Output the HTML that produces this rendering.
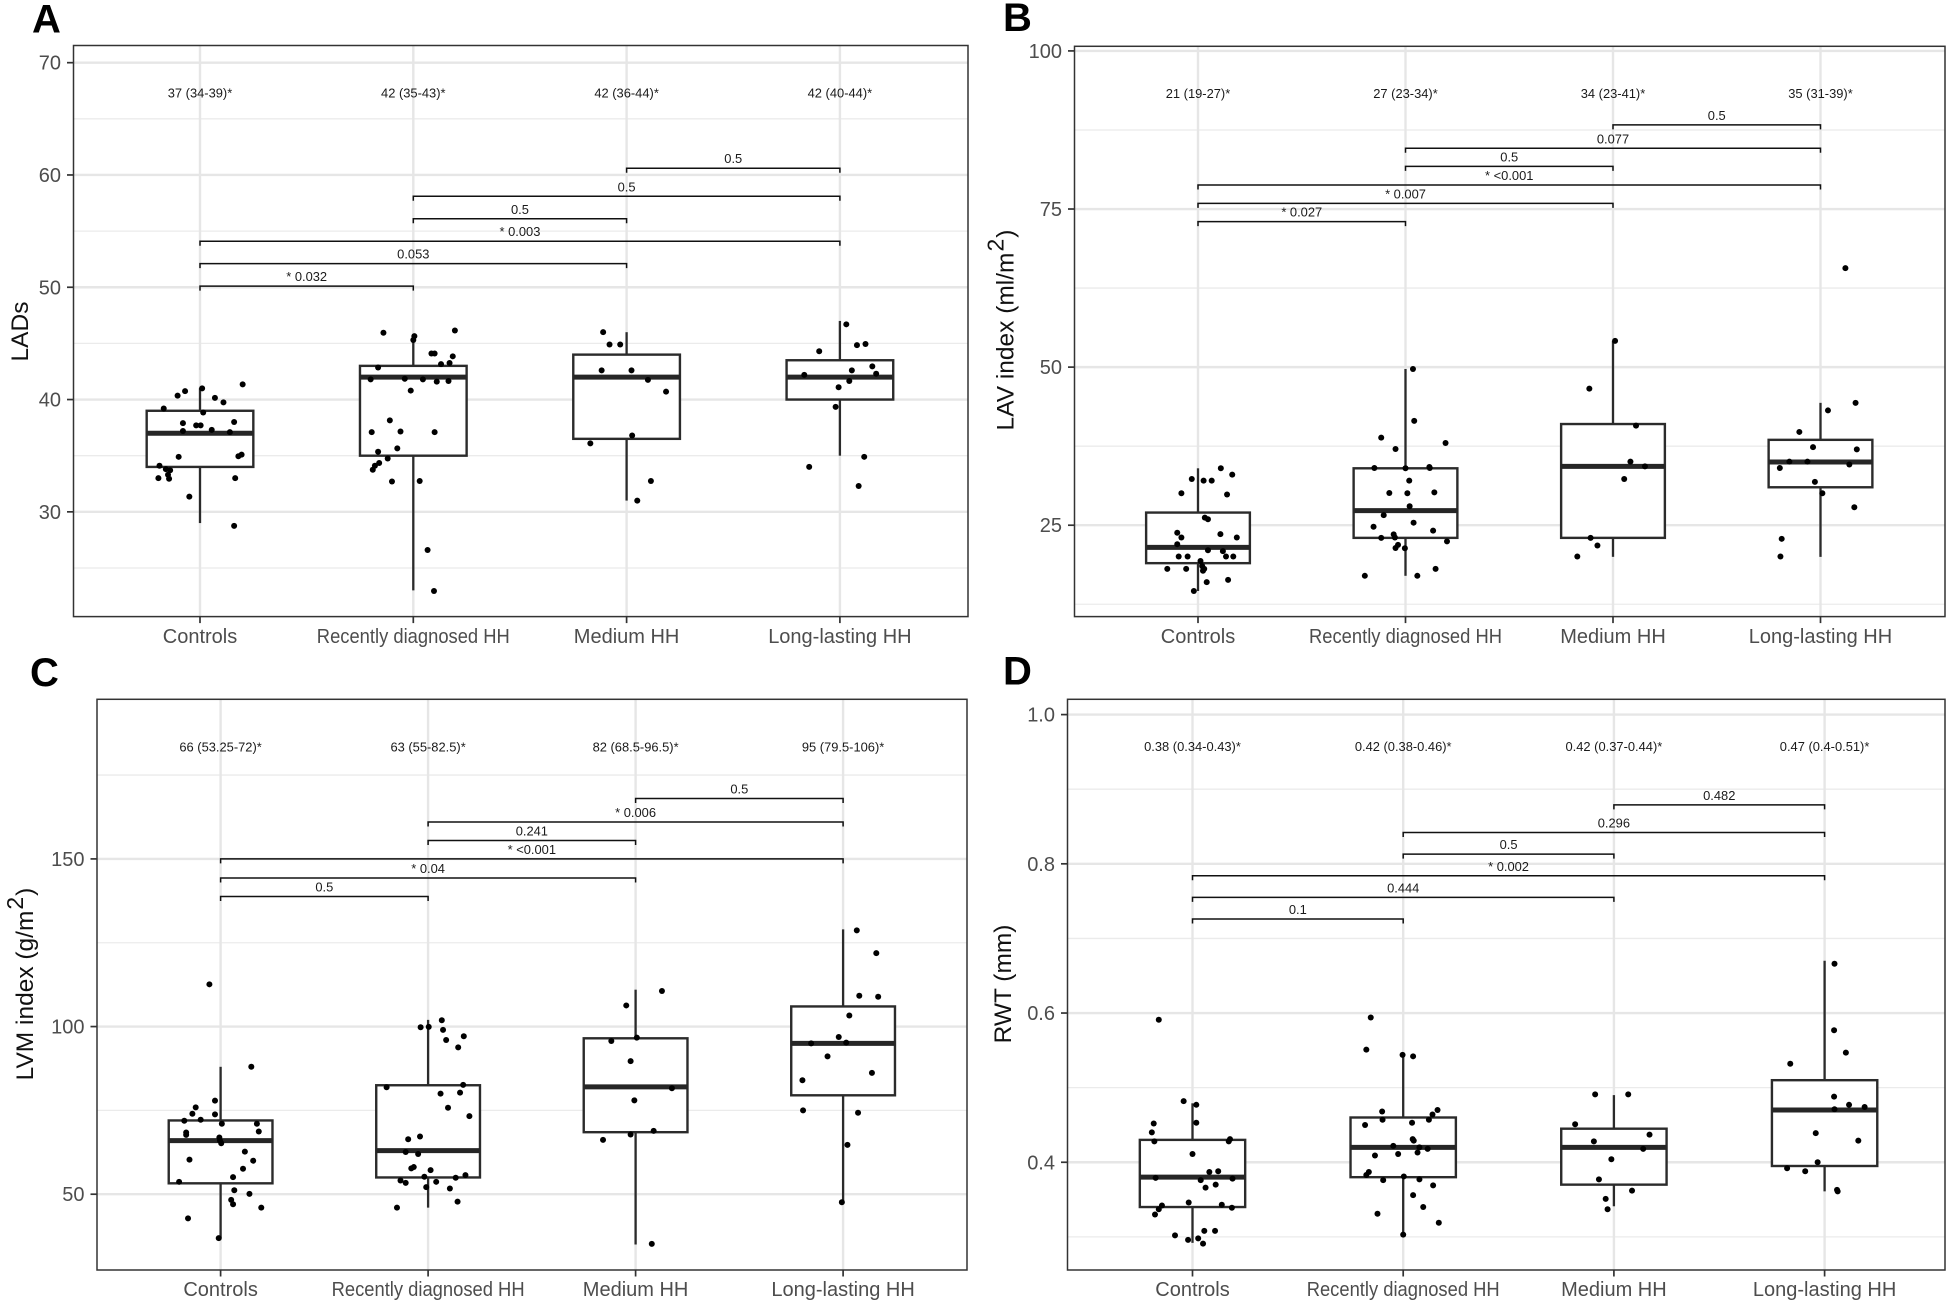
<!DOCTYPE html>
<html lang="en">
<head>
<meta charset="utf-8">
<title>Echocardiographic parameters by group</title>
<style>
html,body{margin:0;padding:0;background:#fff;}
body{width:1955px;height:1305px;overflow:hidden;}
svg{display:block;font-family:"Liberation Sans",Arial,sans-serif;}
</style>
</head>
<body>
<svg id="figure" xmlns="http://www.w3.org/2000/svg" width="1955" height="1305" viewBox="0 0 1955 1305"></svg>
<script>
const categories = ["Controls", "Recently diagnosed HH", "Medium HH", "Long-lasting HH"];
const bracketFrom = [0, 0, 0, 1, 1, 2];
const bracketTo = [1, 2, 3, 2, 3, 3];

/* Panel A — LADs */
const aTicks = [30, 40, 50, 60, 70];
const aTickLabels = ["30", "40", "50", "60", "70"];
const aMinorGrid = [25, 35, 45, 55, 65];
const aQ1 = [34, 35, 36.5, 40];
const aMedian = [37, 42, 42, 42];
const aQ3 = [39, 43, 44, 43.5];
const aWhiskerLow = [29, 23, 31, 35];
const aWhiskerHigh = [41, 45.8, 46, 47];
const aBracketLevels = [50.1, 52.1, 54.1, 56.1, 58.1, 60.6];
const aBracketLabels = ["* 0.032", "0.053", "* 0.003", "0.5", "0.5", "0.5"];
const aSummaryLabels = ["37 (34-39)*", "42 (35-43)*", "42 (36-44)*", "42 (40-44)*"];
const aSummaryLevel = 67.3;
const aValues0 = [39.2,40.35,40.75,41,40.15,39.75,41.35,38.85,37.9,37.7,37.7,38,37.2,37.3,37.1,34.9,34.95,35.1,34.1,33.8,33.7,33.3,33,32.95,33,31.35,28.75];
const aJitter0 = [-.17,-.105,-.07,.01,.07,.11,.2,.015,-.08,-.018,.003,.16,-.08,.055,.14,-.1,.18,.195,-.19,-.16,-.14,-.15,-.195,-.145,.165,-.05,.16];
const aValues1 = [45.95,45.65,45.3,46.15,44.1,44.1,43.85,43.15,43.25,42.85,41.8,41.85,41.8,41.6,41.65,40.8,38.15,37.1,37.15,37.1,35.65,35.35,34.75,34.35,34.1,33.75,32.7,32.75,26.6,22.95];
const aJitter1 = [-.14,.005,0,.195,.085,.1,.185,.13,.17,-.165,-.2,-.04,.045,.11,.165,-.012,-.11,-.195,-.06,.1,-.075,-.165,-.12,-.16,-.18,-.19,-.1,.03,.067,.097];
const aValues2 = [46,44.9,44.9,42.6,42.6,41.75,40.7,36.8,36.1,32.75,31];
const aJitter2 = [-.11,-.08,-.03,-.117,.023,.1,.185,.026,-.17,.114,.05];
const aValues3 = [46.7,44.85,44.95,44.3,42.95,42.6,42.2,42.3,41.65,41.1,39.35,34.9,34,32.3];
const aJitter3 = [.03,.08,.12,-.097,.152,.056,-.167,.17,.044,-.006,-.02,.114,-.144,.088];

/* Panel B — LAV index */
const bTicks = [25, 50, 75, 100];
const bTickLabels = ["25", "50", "75", "100"];
const bMinorGrid = [12.5, 37.5, 62.5, 87.5];
const bQ1 = [19, 23, 23, 31];
const bMedian = [21.5, 27.3, 34.3, 35];
const bQ3 = [27, 34, 41, 38.5];
const bWhiskerLow = [14.6, 17, 20, 20];
const bWhiskerHigh = [34, 49.7, 54.15, 44.35];
const bBracketLevels = [73, 75.9, 78.8, 81.75, 84.6, 88.3];
const bBracketLabels = ["* 0.027", "* 0.007", "* <0.001", "0.5", "0.077", "0.5"];
const bSummaryLabels = ["21 (19-27)*", "27 (23-34)*", "34 (23-41)*", "35 (31-39)*"];
const bSummaryLevel = 93.3;
const bValues0 = [34,33,32.3,32.05,32.05,30.05,29.85,26.2,25.95,23.8,23.05,23.6,23.05,22,21.05,20.9,20.05,20.05,20.05,20.05,19.35,18.55,18.1,18.1,18.1,17.8,16,16.35,14.6];
const bJitter0 = [.11,.165,-.03,.027,.066,-.08,.14,.033,.048,-.1,-.08,.108,.187,-.1,.048,.12,-.093,-.05,.135,.17,.012,.02,-.148,-.057,.03,.024,.042,.145,-.02];
const bValues1 = [49.7,41.5,38.85,37.05,38,34.05,34,34.2,34.05,32.05,30.1,30.05,30.2,28,26.6,25.4,24.75,24.15,23,23.55,23.05,22.45,21.9,21.4,21.35,18.1,17,17];
const bJitter1 = [.036,.042,-.117,-.048,.193,-.15,0,.115,.117,.018,-.078,.009,.139,.02,-.105,.039,-.154,.133,-.117,-.057,-.051,.2,-.036,-.048,-.003,.145,-.196,.057];
const bValues2 = [54.15,46.6,40.75,35.05,34.3,32.3,23,21.8,20.05];
const bJitter2 = [.01,-.114,.111,.084,.154,.054,-.108,-.075,-.172];
const bValues3 = [65.65,44.35,43.15,39.75,37.35,37,35.05,35.05,34.6,34.05,31.85,30.05,27.85,22.85,20.05];
const bJitter3 = [.12,.169,.036,-.102,-.036,.175,-.15,-.063,.139,-.196,-.027,.009,.163,-.187,-.193];

/* Panel C — LVM index */
const cTicks = [50, 100, 150];
const cTickLabels = ["50", "100", "150"];
const cMinorGrid = [75, 125, 175];
const cQ1 = [53.25, 55, 68.5, 79.5];
const cMedian = [66, 63, 82, 95];
const cQ3 = [72, 82.5, 96.5, 106];
const cWhiskerLow = [37, 46, 35, 48];
const cWhiskerHigh = [88, 102, 111, 129];
const cBracketLevels = [138.8, 144.3, 150, 155.5, 161, 168];
const cBracketLabels = ["0.5", "* 0.04", "* <0.001", "0.241", "* 0.006", "0.5"];
const cSummaryLabels = ["66 (53.25-72)*", "63 (55-82.5)*", "82 (68.5-96.5)*", "95 (79.5-106)*"];
const cSummaryLevel = 183.4;
const cValues0 = [112.6,88,77.9,75.9,74,73.8,71.9,72.2,71,71,68.4,67.7,68.7,66.9,66,65.2,62.7,60.3,60,57.6,55.1,53.7,51.2,50.1,48.3,47,46,42.8,36.9];
const cJitter0 = [-.054,.148,-.027,-.12,-.136,-.027,-.175,-.096,.006,.175,-.166,-.166,.184,-.006,-.003,.003,.117,-.15,.157,.108,.06,-.2,.066,.139,.051,.06,.196,-.157,-.009];
const cValues1 = [101.9,99.8,99.9,99,97.1,96,93.8,82.6,81.9,80,80.3,75.8,73.3,67.2,66.4,62.6,62,58.1,57.7,57.2,55.2,55.7,54.9,54.1,53.4,53.7,52.1,51.7,47.8,46];
const cJitter1 = [.066,-.036,.003,.072,.172,.087,.145,.169,-.2,.06,.154,.096,.199,-.039,-.096,-.108,-.048,-.069,-.081,.012,-.018,.18,.133,-.133,-.108,.039,-.009,.105,.142,-.15];
const cValues2 = [110.6,106.3,96.7,95.7,89.7,81.6,78,68.9,67.8,66.2,35.2];
const cJitter2 = [.127,-.045,.006,-.117,-.024,.175,-.006,.087,-.024,-.157,.078];
const cValues3 = [128.7,121.9,109.2,108.9,103.3,96.9,95.2,95,91.1,84,86.2,75,74.3,64.7,47.6];
const cJitter3 = [.066,.16,.078,.169,.03,-.021,.015,-.154,-.075,-.196,.139,-.193,.072,.021,-.006];

/* Panel D — RWT */
const dTicks = [0.4, 0.6, 0.8, 1.0];
const dTickLabels = ["0.4", "0.6", "0.8", "1.0"];
const dMinorGrid = [0.3, 0.5, 0.7, 0.9];
const dQ1 = [0.34, 0.38, 0.37, 0.395];
const dMedian = [0.38, 0.42, 0.42, 0.47];
const dQ3 = [0.43, 0.46, 0.445, 0.51];
const dWhiskerLow = [0.292, 0.303, 0.341, 0.361];
const dWhiskerHigh = [0.479, 0.544, 0.49, 0.67];
const dBracketLevels = [0.726, 0.755, 0.784, 0.813, 0.842, 0.879];
const dBracketLabels = ["0.1", "0.444", "* 0.002", "0.5", "0.296", "0.482"];
const dSummaryLabels = ["0.38 (0.34-0.43)*", "0.42 (0.38-0.46)*", "0.42 (0.37-0.44)*", "0.47 (0.4-0.51)*"];
const dSummaryLevel = 0.957;
const dValues0 = [.591,.482,.477,.452,.453,.44,.431,.428,.428,.411,.387,.388,.379,.378,.376,.37,.366,.346,.342,.343,.339,.337,.33,.308,.308,.302,.296,.298,.291];
const dJitter0 = [-.16,-.042,.018,-.184,.018,-.193,.178,.172,-.181,0,.08,.122,-.175,.19,.039,.11,.062,-.018,-.145,.139,.187,-.16,-.178,.056,.107,-.083,-.021,.027,.05];
const dValues1 = [.594,.551,.544,.542,.47,.468,.464,.457,.457,.453,.45,.431,.429,.422,.418,.42,.413,.411,.409,.387,.383,.381,.376,.377,.369,.356,.34,.331,.319,.303];
const dJitter1 = [-.154,-.175,-.003,.047,.163,-.1,.139,.122,-.098,.042,-.181,.045,.05,-.047,.116,.077,.068,-.024,-.134,-.163,-.175,.003,-.095,.077,.142,.047,.095,-.122,.169,0];
const dValues2 = [.491,.491,.451,.437,.428,.418,.404,.377,.362,.351,.337];
const dJitter2 = [-.089,.068,-.184,.169,-.095,.139,-.012,-.071,.086,-.039,-.03];
const dValues3 = [.666,.577,.547,.532,.488,.477,.474,.471,.439,.429,.4,.392,.388,.363,.361];
const dJitter3 = [.047,.045,.101,-.163,.045,.116,.19,.047,-.042,.16,-.033,-.178,-.092,.059,.062];

const panels = [
  {key:"a", letter:"A", letterX:32, letterY:32.5, left:73.5, right:968, top:45.5, bottom:616.6, yMin:20.67, yMax:71.53, catFirst:200, catStep:213.3,
   title:["LADs"], titleX:20, titleY:331.5, labelBase:643,
   ticks:aTicks, tickLabels:aTickLabels, minor:aMinorGrid, q1:aQ1, median:aMedian, q3:aQ3, low:aWhiskerLow, high:aWhiskerHigh,
   levels:aBracketLevels, bracketLabels:aBracketLabels, summary:aSummaryLabels, summaryLevel:aSummaryLevel,
   values:[aValues0,aValues1,aValues2,aValues3], jitter:[aJitter0,aJitter1,aJitter2,aJitter3]},
  {key:"b", letter:"B", letterX:1003, letterY:31, left:1074.5, right:1945, top:46.3, bottom:616.6, yMin:10.55, yMax:100.73, catFirst:1198, catStep:207.5,
   title:["LAV index (ml/m","2",")"], titleX:1005.5, titleY:330, labelBase:643,
   ticks:bTicks, tickLabels:bTickLabels, minor:bMinorGrid, q1:bQ1, median:bMedian, q3:bQ3, low:bWhiskerLow, high:bWhiskerHigh,
   levels:bBracketLevels, bracketLabels:bBracketLabels, summary:bSummaryLabels, summaryLevel:bSummaryLevel,
   values:[bValues0,bValues1,bValues2,bValues3], jitter:[bJitter0,bJitter1,bJitter2,bJitter3]},
  {key:"c", letter:"C", letterX:30, letterY:686, left:97, right:967, top:699.3, bottom:1270, yMin:27.4, yMax:197.6, catFirst:220.6, catStep:207.5,
   title:["LVM index (g/m","2",")"], titleX:25, titleY:984, labelBase:1296,
   ticks:cTicks, tickLabels:cTickLabels, minor:cMinorGrid, q1:cQ1, median:cMedian, q3:cQ3, low:cWhiskerLow, high:cWhiskerHigh,
   levels:cBracketLevels, bracketLabels:cBracketLabels, summary:cSummaryLabels, summaryLevel:cSummaryLevel,
   values:[cValues0,cValues1,cValues2,cValues3], jitter:[cJitter0,cJitter1,cJitter2,cJitter3]},
  {key:"d", letter:"D", letterX:1003, letterY:684.5, left:1067.5, right:1945, top:699.3, bottom:1270, yMin:0.2556, yMax:1.0205, catFirst:1192.5, catStep:210.7,
   title:["RWT (mm)"], titleX:1003, titleY:984, labelBase:1296,
   ticks:dTicks, tickLabels:dTickLabels, minor:dMinorGrid, q1:dQ1, median:dMedian, q3:dQ3, low:dWhiskerLow, high:dWhiskerHigh,
   levels:dBracketLevels, bracketLabels:dBracketLabels, summary:dSummaryLabels, summaryLevel:dSummaryLevel,
   values:[dValues0,dValues1,dValues2,dValues3], jitter:[dJitter0,dJitter1,dJitter2,dJitter3]}
];

const SVG_NS = "http://www.w3.org/2000/svg";
const root = document.getElementById("figure");

function shape(parent, tag, props) {
  const node = document.createElementNS(SVG_NS, tag);
  for (const prop in props) node.setAttribute(prop, props[prop]);
  parent.appendChild(node);
  return node;
}

function drawPanel(p) {
  const yScale = v => p.bottom - (v - p.yMin) / (p.yMax - p.yMin) * (p.bottom - p.top);
  const xScale = c => p.catFirst + c * p.catStep;

  const g = shape(root, "g", {});
  
  

  const letter = shape(g, "text", {x:p.letterX, y:p.letterY, "font-size":40, "font-weight":"bold", fill:"#000"});
  letter.textContent = p.letter;
  
  

  const bg = shape(g, "rect", {x:p.left, y:p.top, width:p.right-p.left, height:p.bottom-p.top, fill:"#fff"});
  
  

  p.minor.forEach(v => {
    const line = shape(g, "line", {x1:p.left, x2:p.right, y1:yScale(v), y2:yScale(v), stroke:"#ebebeb", "stroke-width":1.3});
    
    
  });
  p.ticks.forEach(v => {
    const line = shape(g, "line", {x1:p.left, x2:p.right, y1:yScale(v), y2:yScale(v), stroke:"#e6e6e6", "stroke-width":2.4});
    
    
  });
  categories.forEach((c, i) => {
    const line = shape(g, "line", {x1:xScale(i), x2:xScale(i), y1:p.top, y2:p.bottom, stroke:"#e6e6e6", "stroke-width":2.4});
    
    
  });

  categories.forEach((c, i) => {
    const cx = xScale(i);
    const halfBox = p.catStep * 0.25;
    const whiskerUp = shape(g, "line", {x1:cx, x2:cx, y1:yScale(p.q3[i]), y2:yScale(p.high[i]), stroke:"#2b2b2b", "stroke-width":2.3});
    
    
    const whiskerDown = shape(g, "line", {x1:cx, x2:cx, y1:yScale(p.q1[i]), y2:yScale(p.low[i]), stroke:"#2b2b2b", "stroke-width":2.3});
    
    
    const box = shape(g, "rect", {x:cx-halfBox, width:halfBox*2, y:yScale(p.q3[i]), height:yScale(p.q1[i])-yScale(p.q3[i]), fill:"#fff", stroke:"#2b2b2b", "stroke-width":2.4});
    
    
    const med = shape(g, "line", {x1:cx-halfBox, x2:cx+halfBox, y1:yScale(p.median[i]), y2:yScale(p.median[i]), stroke:"#262626", "stroke-width":5});
    
    
  });

  p.values.forEach((series, i) => {
    series.forEach((v, k) => {
      const dot = shape(g, "circle", {cx:xScale(i + p.jitter[i][k]), cy:yScale(v), r:3, fill:"#000"});
      
      
    });
  });

  p.summary.forEach((s, i) => {
    const t = shape(g, "text", {x:xScale(i), y:yScale(p.summaryLevel)+4.5, "font-size":12.9, fill:"#1a1a1a", "text-anchor":"middle"});
    t.textContent = s;
    
    
  });

  p.levels.forEach((level, i) => {
    const xa = xScale(bracketFrom[i]);
    const xb = xScale(bracketTo[i]);
    const y = yScale(level);
    const br = shape(g, "path", {d:"M"+xa+" "+(y+4.5)+"V"+y+"H"+xb+"V"+(y+4.5), fill:"none", stroke:"#111", "stroke-width":1.5});
    
    
    const lab = shape(g, "text", {x:(xa+xb)/2, y:y-5, "font-size":12.9, fill:"#1a1a1a", "text-anchor":"middle"});
    lab.textContent = p.bracketLabels[i];
    
    
  });

  const border = shape(g, "rect", {x:p.left, y:p.top, width:p.right-p.left, height:p.bottom-p.top, fill:"none", stroke:"#333", "stroke-width":1.5});
  
  

  p.ticks.forEach((v, i) => {
    const tick = shape(g, "line", {x1:p.left-6.5, x2:p.left, y1:yScale(v), y2:yScale(v), stroke:"#333", "stroke-width":1.7});
    
    
    const lab = shape(g, "text", {x:p.left-12.5, y:yScale(v)+7, "font-size":20, fill:"#4d4d4d", "text-anchor":"end"});
    lab.textContent = p.tickLabels[i];
    
    
  });

  categories.forEach((c, i) => {
    const tick = shape(g, "line", {x1:xScale(i), x2:xScale(i), y1:p.bottom, y2:p.bottom+6.5, stroke:"#333", "stroke-width":1.7});
    
    
    const lab = shape(g, "text", {x:xScale(i), y:p.labelBase, "font-size":20, fill:"#4d4d4d", "text-anchor":"middle"});
    lab.textContent = c;
    if (i === 1) {
      lab.setAttribute('textLength', 193);
      lab.setAttribute('lengthAdjust', 'spacingAndGlyphs');
    }
    
    
  });

  const title = shape(g, "text", {transform:"translate("+p.titleX+" "+p.titleY+") rotate(-90)", x:0, y:8, "font-size":24.5, fill:"#111", "text-anchor":"middle"});
  
  
  if (p.title.length === 1) {
    title.textContent = p.title[0];
  } else {
    const main = shape(title, "tspan", {});
    main.textContent = p.title[0];
    const sup = shape(title, "tspan", {dy:-10, dx:1, "font-size":23});
    sup.textContent = p.title[1];
    const tail = shape(title, "tspan", {dy:10, dx:1});
    tail.textContent = p.title[2];
  }
}

panels.forEach(drawPanel);
</script>
</body>
</html>
